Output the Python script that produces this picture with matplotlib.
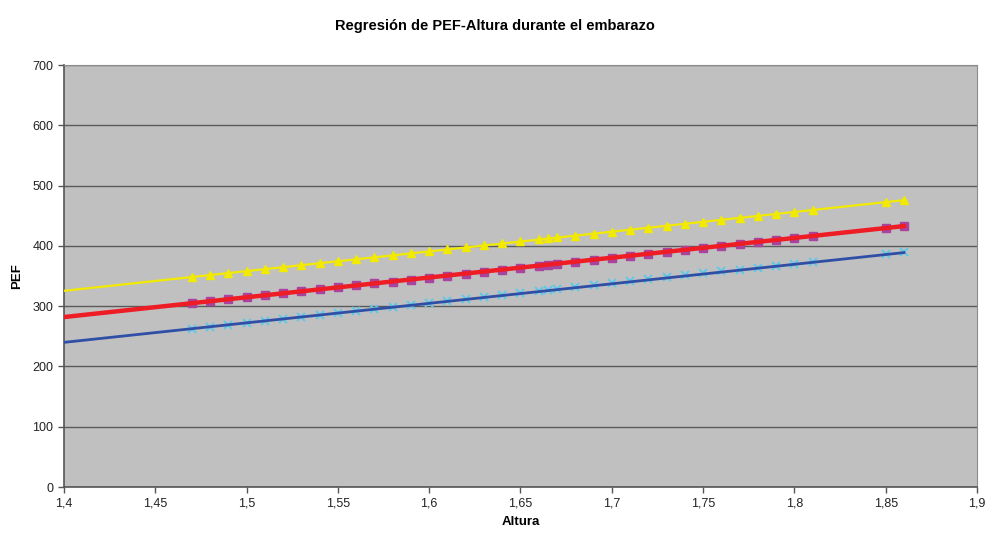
import matplotlib.pyplot as plt
from matplotlib.ticker import FuncFormatter

plt.rcParams['font.family'] = ['Liberation Sans', 'DejaVu Sans']

# regression lines (ends of the fitted range)
line_x = [1.40, 1.86]
pred_line = [282.0, 433.0]
upper_line = [325.5, 476.0]
lower_line = [240.0, 389.0]

# heights with observations
altura = [1.47, 1.48, 1.49, 1.50, 1.51, 1.52, 1.53, 1.54, 1.55, 1.56,
          1.57, 1.58, 1.59, 1.60, 1.61, 1.62, 1.63, 1.64, 1.65, 1.66,
          1.665, 1.67, 1.68, 1.69, 1.70, 1.71, 1.72, 1.73, 1.74, 1.75,
          1.76, 1.77, 1.78, 1.79, 1.80, 1.81, 1.85, 1.86]
pef_pred = [305.0, 308.2, 311.5, 314.8, 318.1, 321.4, 324.6, 327.9, 331.2, 334.5,
            337.8, 341.0, 344.3, 347.6, 350.9, 354.2, 357.4, 360.7, 364.0, 367.3,
            368.9, 370.6, 373.8, 377.1, 380.4, 383.7, 387.0, 390.2, 393.5, 396.8,
            400.1, 403.4, 406.6, 409.9, 413.2, 416.5, 429.6, 432.9]
pef_upper = [348.5, 351.7, 355.0, 358.3, 361.6, 364.9, 368.1, 371.4, 374.7, 378.0,
             381.3, 384.5, 387.8, 391.1, 394.4, 397.7, 400.9, 404.2, 407.5, 410.8,
             412.4, 414.1, 417.3, 420.6, 423.9, 427.2, 430.5, 433.7, 437.0, 440.3,
             443.6, 446.9, 450.1, 453.4, 456.7, 460.0, 473.1, 476.4]
pef_lower = [262.5, 265.7, 269.0, 272.3, 275.6, 278.9, 282.1, 285.4, 288.7, 292.0,
             295.3, 298.5, 301.8, 305.1, 308.4, 311.7, 314.9, 318.2, 321.5, 324.8,
             326.4, 328.1, 331.3, 334.6, 337.9, 341.2, 344.5, 347.7, 351.0, 354.3,
             357.6, 360.9, 364.1, 367.4, 370.7, 374.0, 387.1, 390.4]

fig = plt.figure(figsize=(9.9, 5.34), dpi=100)
ax = fig.add_axes([0.0646, 0.088, 0.9223, 0.790])
ax.set_facecolor('#c0c0c0')

# lower band: cyan x markers under blue line
ax.plot(altura, pef_lower, linestyle='none', marker='x', color='#5ec8ea',
        markersize=5.5, markeredgewidth=1.4, zorder=3)
ax.plot(line_x, lower_line, color='#2f4fa6', linewidth=2, zorder=4)

# observed/predicted squares under the red fit
ax.plot(altura, pef_pred, linestyle='none', marker='s', color='#a8449e',
        markersize=5.5, zorder=3)
ax.plot(line_x, pred_line, color='#ee1c25', linewidth=3.2, zorder=4)

# upper band
ax.plot(line_x, upper_line, color='#f2ea00', linewidth=1.6, zorder=4)
ax.plot(altura, pef_upper, linestyle='none', marker='^', color='#f2ea00',
        markersize=6, zorder=5)

ax.set_xlim(1.4, 1.9)
ax.set_ylim(0, 700)
ax.set_xticks([1.4, 1.45, 1.5, 1.55, 1.6, 1.65, 1.7, 1.75, 1.8, 1.85, 1.9])
ax.set_yticks(range(0, 701, 100))
ax.xaxis.set_major_formatter(FuncFormatter(lambda v, p: ('%g' % round(v, 2)).replace('.', ',')))
ax.yaxis.grid(True, color='#5a5a5a', linewidth=1)
ax.set_axisbelow(True)

for side in ['top', 'right']:
    ax.spines[side].set_color('#8c8c8c')
for side in ['left', 'bottom']:
    ax.spines[side].set_color('#555555')
    ax.spines[side].set_linewidth(1.2)
ax.tick_params(direction='out', length=4, width=1, color='#555555',
               labelsize=9, labelcolor='#222222')

ax.set_xlabel('Altura', fontsize=9.5, fontweight='bold', labelpad=5)
ax.set_ylabel('PEF', fontsize=9.5, fontweight='bold', labelpad=7)
fig.suptitle('Regresión de PEF-Altura durante el embarazo', fontsize=10.5,
             fontweight='bold', y=0.965)

plt.savefig('out.png')
